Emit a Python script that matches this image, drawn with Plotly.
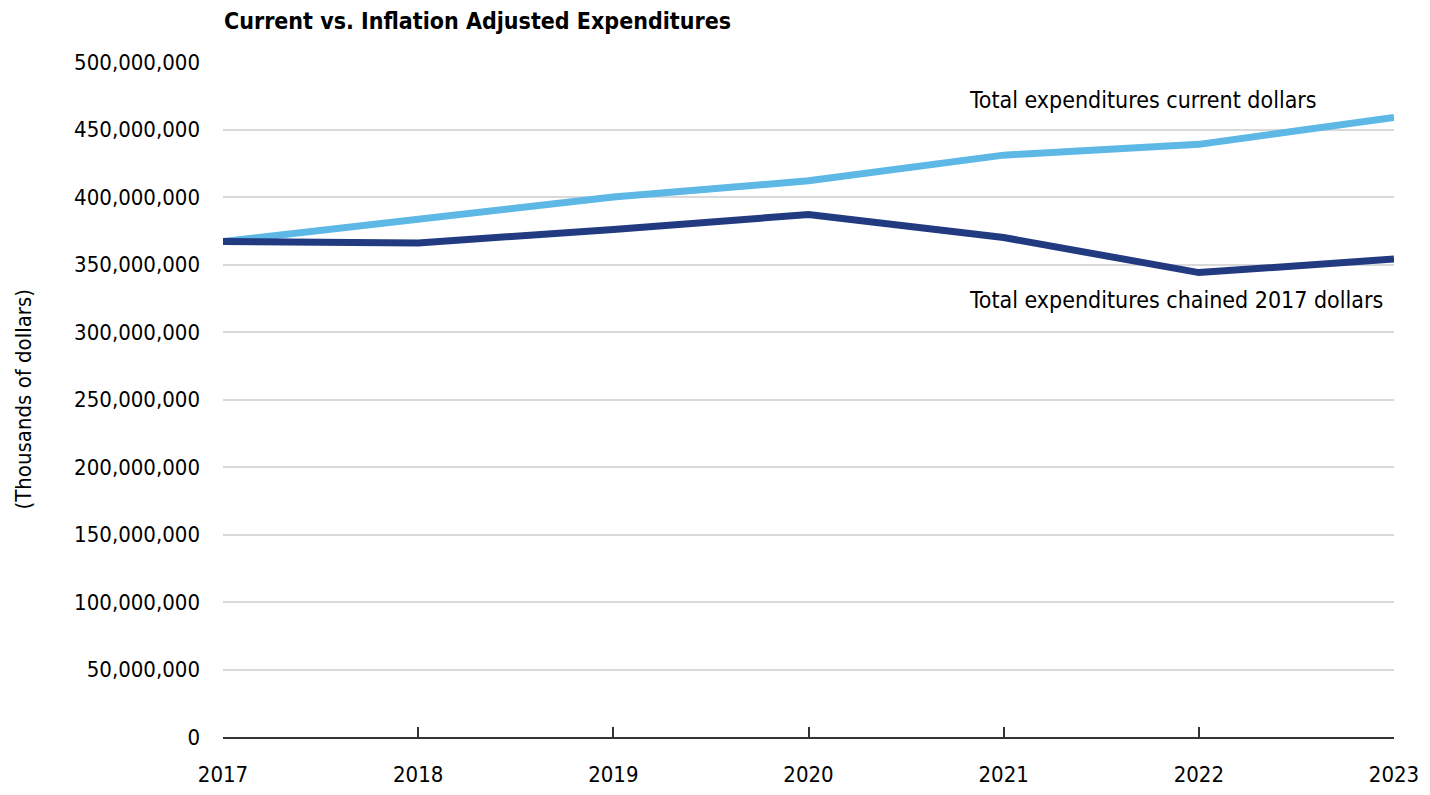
import plotly.graph_objects as go

# Years on the x axis
years = [2017, 2018, 2019, 2020, 2021, 2022, 2023]
# Total expenditures, thousands of dollars
current_dollars = [367000000, 383000000, 400000000, 412000000, 431000000, 439000000, 459000000]
chained_2017 = [367000000, 366000000, 376000000, 387000000, 370000000, 344000000, 354000000]

label_current = 'Total expenditures current dollars'
label_chained = 'Total expenditures chained 2017 dollars'

narrow = 'Liberation Sans Narrow, Arial Narrow, DejaVu Sans Condensed, sans-serif'

# page body has an 8px margin all round; keep the figure inside the window
W, H = 1414, 779

fig = go.Figure()
fig.add_trace(go.Scatter(
    x=years,
    y=current_dollars,
    mode='lines',
    line=dict(color='#5DB8E5', width=7),
    name=label_current
    )
)
fig.add_trace(go.Scatter(
    x=years,
    y=chained_2017,
    mode='lines',
    line=dict(color='#223A80', width=7),
    name=label_chained
    )
)

fig.add_annotation(x=0.635, y=0.944, xref='paper', yref='paper', text=label_current,
                   showarrow=False, xanchor='left', yanchor='middle',
                   font=dict(size=23, color='black', family=narrow))
fig.add_annotation(x=0.635, y=0.647, xref='paper', yref='paper', text=label_chained,
                   showarrow=False, xanchor='left', yanchor='middle',
                   font=dict(size=23, color='black', family=narrow))
# y axis title placed by hand
fig.add_annotation(x=-200 / 1171, y=0.5, xref='paper', yref='paper',
                   text='(Thousands of dollars)', textangle=-90,
                   showarrow=False, xanchor='center', yanchor='middle',
                   font=dict(size=22, color='black', family=narrow))

fig.update_layout(
    width=W,
    height=H,
    margin=dict(l=215, r=28, t=54, b=50),
    plot_bgcolor='white',
    paper_bgcolor='white',
    font=dict(family=narrow, size=22, color='black'),
    title=dict(text='<b>Current vs. Inflation Adjusted Expenditures</b>',
               x=216 / W, xanchor='left', y=1 - 13 / H, yanchor='middle',
               font=dict(size=23, family=narrow, color='black')),
    showlegend=False
    )
fig.update_xaxes(
    range=[2017, 2023],
    tickvals=years,
    ticks='inside',
    ticklen=10,
    tickwidth=2,
    tickcolor='#333333',
    showline=True,
    linecolor='#333333',
    linewidth=2,
    showgrid=False,
    zeroline=False,
    automargin=False,
    ticklabeloverflow='allow',
    ticklabelstandoff=17
    )
fig.update_yaxes(
    range=[0, 500000000],
    dtick=50000000,
    tickformat=',d',
    showgrid=True,
    gridcolor='#D9D9D9',
    gridwidth=2,
    zeroline=False,
    ticks='',
    automargin=False,
    ticklabelstandoff=22
    )
fig.write_html('out.html')
